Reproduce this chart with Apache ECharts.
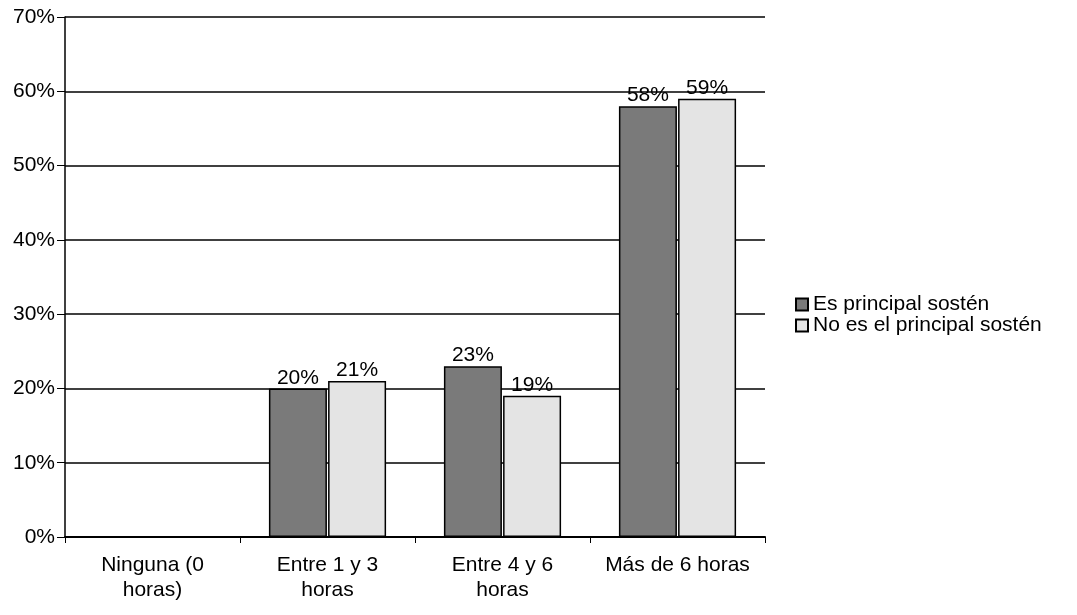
<!DOCTYPE html>
<html>
<head>
<meta charset="utf-8">
<script src="https://cdn.jsdelivr.net/npm/echarts@6/dist/echarts.min.js"></script>
<style>
  html, body { margin: 0; padding: 0; background: #fff; }
  #main { width: 1077px; height: 615px; }
</style>
</head>
<body>
<div id="main"></div>
<script>
// 数据
const categories = ['Ninguna (0\nhoras)', 'Entre 1 y 3\nhoras', 'Entre 4 y 6\nhoras', 'Más de 6 horas']
const seriesNames = ['Es principal sostén', 'No es el principal sostén']
const principal = [0, 20, 23, 58]
const noPrincipal = [0, 21, 19, 59]

const myChart = echarts.init(document.querySelector('#main'))

// 柱子标签，0 不显示
const barLabel = {
  show: true,
  position: 'top',
  distance: 0,
  color: '#000',
  fontSize: 21,
  fontFamily: 'Liberation Sans',
  formatter: p => (p.value ? p.value + '%' : '')
}

const option = {
  animation: false,
  textStyle: { fontFamily: 'Liberation Sans' },
  grid: {
    left: 65,
    right: 312,
    top: 17,
    bottom: 78
  },
  legend: {
    orient: 'vertical',
    left: 790,
    top: 289,
    icon: 'rect',
    itemWidth: 12,
    itemHeight: 12,
    itemGap: 0,
    textStyle: { fontSize: 21, color: '#000', fontFamily: 'Liberation Sans' },
    data: seriesNames
  },
  xAxis: {
    type: 'category',
    data: categories,
    axisLine: { lineStyle: { color: '#000', width: 2 } },
    axisTick: { show: true, interval: 0, length: 6, lineStyle: { color: '#000' } },
    axisLabel: { interval: 0, color: '#000', fontSize: 21, lineHeight: 25, margin: 16 }
  },
  yAxis: {
    type: 'value',
    min: 0,
    max: 70,
    interval: 10,
    axisLine: { show: true, lineStyle: { color: '#000', width: 1.5 } },
    axisTick: { show: true, length: 8, lineStyle: { color: '#000' } },
    axisLabel: { color: '#000', fontSize: 21, margin: 10, formatter: '{value}%' },
    splitLine: { lineStyle: { color: '#000', width: 1.5 } }
  },
  series: [
    {
      name: seriesNames[0],
      type: 'bar',
      data: principal,
      barWidth: 58,
      barGap: '2%',
      itemStyle: { color: '#7a7a7a', borderColor: '#000', borderWidth: 1.5 },
      label: barLabel
    },
    {
      name: seriesNames[1],
      type: 'bar',
      data: noPrincipal,
      barWidth: 58,
      barGap: '2%',
      itemStyle: { color: '#e4e4e4', borderColor: '#000', borderWidth: 1.5 },
      label: barLabel
    }
  ]
}
myChart.setOption(option)
</script>
</body>
</html>
